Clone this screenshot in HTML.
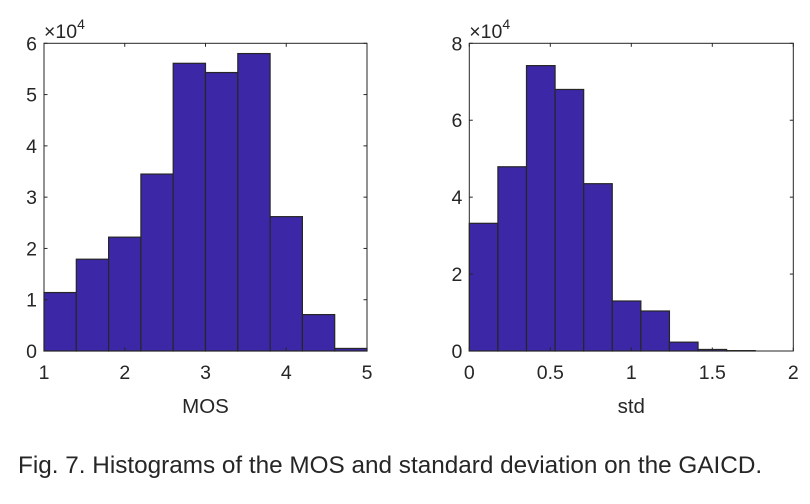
<!DOCTYPE html>
<html><head><meta charset="utf-8"><style>
body{margin:0;background:#fff;width:810px;height:499px;overflow:hidden}
svg text{font-family:"Liberation Sans",sans-serif;fill:#262626}
</style></head><body>
<svg id="c" width="810" height="499"></svg>
<script>
const mosValues=[1.14,1.79,2.22,3.45,5.61,5.43,5.80,2.62,0.71,0.05];
const mosStart=1, mosBinWidth=0.4;
const mosXTicks=[1,2,3,4,5];
const mosYTicks=[0,1,2,3,4,5,6];
const stdValues=[3.32,4.79,7.42,6.80,4.35,1.30,1.04,0.23,0.04,0.01];
const stdStart=0, stdBinWidth=0.1765;
const stdXTicks=[0,0.5,1,1.5,2];
const stdYTicks=[0,2,4,6,8];
const NS="http://www.w3.org/2000/svg";
const svg=document.getElementById('c');
function el(t,a,p){const e=document.createElementNS(NS,t);for(const k in a)e.setAttribute(k,a[k]);(p||svg).appendChild(e);return e;}
function panel(name,x0,x1,xmin,xmax,ymax,vals,start,bw,xt,yt,xlabel){
  const top=43.3,bot=351;
  const g=el('g',{});
  
  
  const sx=v=>x0+(v-xmin)/(xmax-xmin)*(x1-x0);
  const sy=v=>bot-v/ymax*(bot-top);
  vals.forEach((v,i)=>{
    const r=el('rect',{x:sx(start+i*bw),y:sy(v),width:sx(start+(i+1)*bw)-sx(start+i*bw),height:bot-sy(v),fill:'#3c27a6',stroke:'#262626','stroke-width':1.2},g);
    
    
  });
  const b=el('rect',{x:x0,y:top,width:x1-x0,height:bot-top,fill:'none',stroke:'#262626','stroke-width':1},g);
  
  
  xt.forEach(t=>{const x=sx(t);
    el('line',{x1:x,x2:x,y1:bot,y2:bot-3.5,stroke:'#262626'},g);
    el('line',{x1:x,x2:x,y1:top,y2:top+3.5,stroke:'#262626'},g);
    const tx=el('text',{x:x,y:bot+28,'text-anchor':'middle','font-size':19.5},g);tx.textContent=t;
    
    
  });
  yt.forEach(t=>{const y=sy(t);
    el('line',{x1:x0,x2:x0+3.5,y1:y,y2:y,stroke:'#262626'},g);
    el('line',{x1:x1,x2:x1-3.5,y1:y,y2:y,stroke:'#262626'},g);
    const tx=el('text',{x:x0-7,y:y+7,'text-anchor':'end','font-size':19.5},g);tx.textContent=t;
    
    
  });
  const ex=el('text',{x:x0,y:38,'font-size':19.5},g);
  ex.innerHTML='×10<tspan dy="-9" font-size="14">4</tspan>';
  
  
  const xl=el('text',{x:(x0+x1)/2,y:413,'text-anchor':'middle','font-size':20.5},g);xl.textContent=xlabel;
  
  
}
panel('mos-histogram',44,367,1,5,6,mosValues,mosStart,mosBinWidth,mosXTicks,mosYTicks,'MOS');
panel('std-histogram',469.3,793.3,0,2,8,stdValues,stdStart,stdBinWidth,stdXTicks,stdYTicks,'std');
const cap=el('text',{x:18,y:473,'font-size':24.3});
cap.textContent='Fig. 7. Histograms of the MOS and standard deviation on the GAICD.';


</script>
</body></html>
